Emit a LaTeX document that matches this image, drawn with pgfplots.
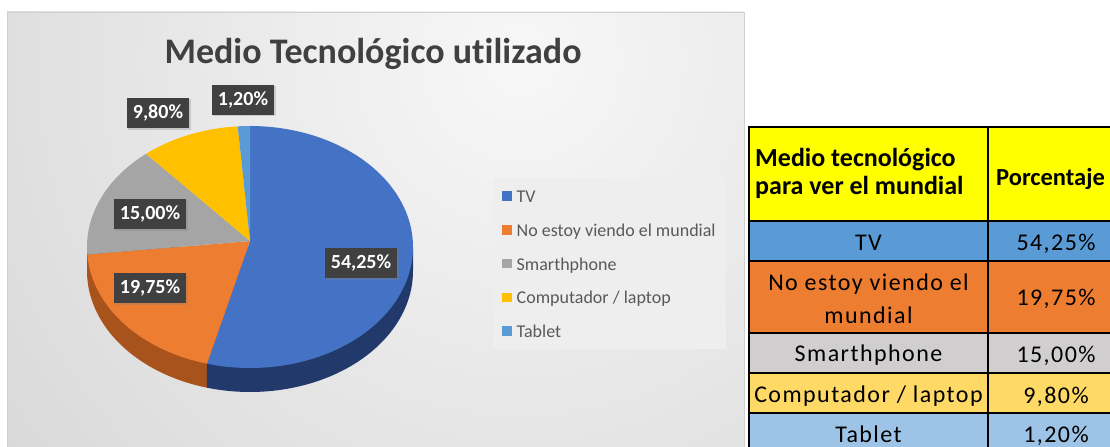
\documentclass[border=0pt]{standalone}
\usepackage{pgfplots}
\pgfplotsset{compat=1.18}
\usepackage{fontspec}
\setmainfont{Carlito}[Ligatures=NoCommon]
\newfontfamily\tabfont[LetterSpace=6,Ligatures=NoCommon]{Carlito}
\usetikzlibrary{shadows}

\definecolor{cTV}{HTML}{4472C4}
\definecolor{cNo}{HTML}{ED7D31}
\definecolor{cSm}{HTML}{A5A5A5}
\definecolor{cCo}{HTML}{FFC000}
\definecolor{cTa}{HTML}{5B9BD5}
\definecolor{cTVS}{HTML}{22396B}
\definecolor{cNoS}{HTML}{A9531C}
\definecolor{lbl}{HTML}{404040}
\definecolor{titlec}{HTML}{404040}
\definecolor{legtext}{HTML}{595959}
\definecolor{legfill}{HTML}{EEEEEE}
\definecolor{tHead}{HTML}{FFFF00}
\definecolor{tTV}{HTML}{5B9BD5}
\definecolor{tNo}{HTML}{ED7D31}
\definecolor{tSm}{HTML}{D0CECE}
\definecolor{tCo}{HTML}{FFD966}
\definecolor{tTa}{HTML}{9DC3E6}

\tikzset{
  lblbox/.style={fill=lbl, text=white, font=\fontsize{20bp}{24bp}\selectfont\bfseries,
    inner xsep=6bp, inner ysep=0bp, minimum height=30bp,
    drop shadow={shadow xshift=1.5bp, shadow yshift=-1.5bp, opacity=0.3}},
  tb/.style={anchor=base, font=\tabfont\fontsize{24bp}{28bp}\selectfont, inner sep=0pt},
  th/.style={anchor=base west, font=\fontsize{26bp}{28bp}\selectfont\bfseries, inner sep=0pt},
}

\begin{document}
\begin{tikzpicture}
% data (percentages)
\def\vTV{54.25}\def\vNo{19.75}\def\vSm{15.00}\def\vCo{9.80}\def\vTa{1.20}
% pie geometry (pixel units)
\def\cx{250}\def\cy{247}\def\rx{163}\def\ry{121}\def\dd{24}\def\apy{241}
\pgfmathsetmacro\aO{90}
\pgfmathsetmacro\aA{\aO-3.6*\vTV}
\pgfmathsetmacro\aB{\aA-3.6*\vNo}
\pgfmathsetmacro\aC{\aB-3.6*\vSm}
\pgfmathsetmacro\aD{\aC-3.6*\vCo}
\pgfmathsetmacro\aE{\aD-3.6*\vTa}
\pgfmathsetmacro\xA{\cx+\rx*cos(\aA)}
\pgfmathsetmacro\yA{\cy-\ry*sin(\aA)}
\pgfmathsetmacro\xL{\cx-\rx}
\pgfmathsetmacro\xR{\cx+\rx}
\begin{axis}[
  scale only axis, width=1110bp, height=447bp,
  xmin=0, xmax=1110, ymin=0, ymax=447, y dir=reverse,
  hide axis, clip=false,
  legend style={at={(axis cs:493,178)}, anchor=north west, draw=none,
    fill=legfill, font=\fontsize{18bp}{21bp}\selectfont, text=legtext,
    inner xsep=9bp, inner ysep=9bp, row sep=15.5bp,
    nodes={inner sep=1bp}, cells={anchor=west},
    /tikz/every odd column/.append style={column sep=4bp}},
  legend cell align=left,
  legend image code/.code={\fill[#1] (0bp,-4.8bp) rectangle (9.5bp,4.8bp);},
]
% chart area background
\begin{scope}
\clip (axis cs:7,12) rectangle (axis cs:744,447);
\shade[inner color=white!97!black, outer color=black!27] (axis cs:520,60) circle[radius=1300];
\end{scope}
\draw[black!18, line width=0.8bp] (axis cs:7,447) -- (axis cs:7,12) -- (axis cs:744,12) -- (axis cs:744,447);

% pie sides
\addplot[fill=cNoS, draw=none, forget plot, domain=-180:\aA, samples=40]
  ({\cx+\rx*cos(x)},{\cy+\dd-\ry*sin(x)}) -- (axis cs:\xA,\yA) -- (axis cs:\cx,\cy) -- (axis cs:\xL,\cy) -- cycle;
\addplot[fill=cTVS, draw=none, forget plot, domain=\aA:0, samples=60]
  ({\cx+\rx*cos(x)},{\cy+\dd-\ry*sin(x)}) -- (axis cs:\xR,\cy) -- (axis cs:\cx,\cy) -- (axis cs:\xA,\yA) -- cycle;

% pie top faces
\addplot[fill=cTV, draw=none, domain=\aA:\aO, samples=120]
  ({\cx+\rx*cos(x)},{\cy-\ry*sin(x)}) -- (axis cs:\cx,\apy) -- cycle;
\addlegendentry{\strut TV}
\addplot[fill=cNo, draw=none, domain=\aB:\aA, samples=50]
  ({\cx+\rx*cos(x)},{\cy-\ry*sin(x)}) -- (axis cs:\cx,\apy) -- cycle;
\addlegendentry{\strut No estoy viendo el mundial}
\addplot[fill=cSm, draw=none, domain=\aC:\aB, samples=40]
  ({\cx+\rx*cos(x)},{\cy-\ry*sin(x)}) -- (axis cs:\cx,\apy) -- cycle;
\addlegendentry{\strut Smarthphone}
\addplot[fill=cCo, draw=none, domain=\aD:\aC, samples=30]
  ({\cx+\rx*cos(x)},{\cy-\ry*sin(x)}) -- (axis cs:\cx,\apy) -- cycle;
\addlegendentry{\strut Computador / laptop}
\addplot[fill=cTa, draw=none, domain=\aE:\aD, samples=6]
  ({\cx+\rx*cos(x)},{\cy-\ry*sin(x)}) -- (axis cs:\cx,\apy) -- cycle;
\addlegendentry{\strut Tablet}

% data labels
\node[lblbox] at (axis cs:361,263) {54,25\%};
\node[lblbox] at (axis cs:150,288) {19,75\%};
\node[lblbox] at (axis cs:150,214) {15,00\%};
\node[lblbox] at (axis cs:158,113) {9,80\%};
\node[lblbox] at (axis cs:243,100) {1,20\%};

% title
\node[anchor=base, text=titlec, font=\fontsize{36bp}{40bp}\selectfont\bfseries] at (axis cs:373,63.3) {Medio Tecnológico utilizado};

% table
\fill[tHead] (axis cs:749,127) rectangle (axis cs:1130,221);
\fill[tTV] (axis cs:749,221) rectangle (axis cs:1130,261);
\fill[tNo] (axis cs:749,261) rectangle (axis cs:1130,333);
\fill[tSm] (axis cs:749,333) rectangle (axis cs:1130,373);
\fill[tCo] (axis cs:749,373) rectangle (axis cs:1130,413);
\fill[tTa] (axis cs:749,413) rectangle (axis cs:1130,460);
\draw[black, line width=2bp] (axis cs:749,127) -- (axis cs:1130,127);
\draw[black, line width=2bp] (axis cs:749,221) -- (axis cs:1130,221);
\draw[black, line width=2bp] (axis cs:749,261) -- (axis cs:1130,261);
\draw[black, line width=2bp] (axis cs:749,333) -- (axis cs:1130,333);
\draw[black, line width=2bp] (axis cs:749,373) -- (axis cs:1130,373);
\draw[black, line width=2bp] (axis cs:749,413) -- (axis cs:1130,413);
\draw[black, line width=2bp] (axis cs:749,126) -- (axis cs:749,460);
\draw[black, line width=2bp] (axis cs:988,126) -- (axis cs:988,460);

\node[th] at (axis cs:755,166.7) {Medio tecnológico};
\node[th] at (axis cs:755,194) {para ver el mundial};
\node[th, font=\fontsize{24.5bp}{28bp}\selectfont\bfseries] at (axis cs:996,185) {Porcentaje};

\node[tb] at (axis cs:868.5,250) {TV};
\node[tb] at (axis cs:868.5,290) {No estoy viendo el};
\node[tb] at (axis cs:868.5,323) {mundial};
\node[tb] at (axis cs:868.5,361.7) {Smarthphone};
\node[tb] at (axis cs:868.5,402.7) {Computador / laptop};
\node[tb] at (axis cs:868.5,442) {Tablet};
\node[tb] at (axis cs:1056,250) {54,25\%};
\node[tb] at (axis cs:1056,305) {19,75\%};
\node[tb] at (axis cs:1056,362) {15,00\%};
\node[tb] at (axis cs:1056,403) {9,80\%};
\node[tb] at (axis cs:1056,442) {1,20\%};
\end{axis}
\pgfresetboundingbox
\path (0,0) rectangle (1110bp,447bp);
\end{tikzpicture}
\end{document}
